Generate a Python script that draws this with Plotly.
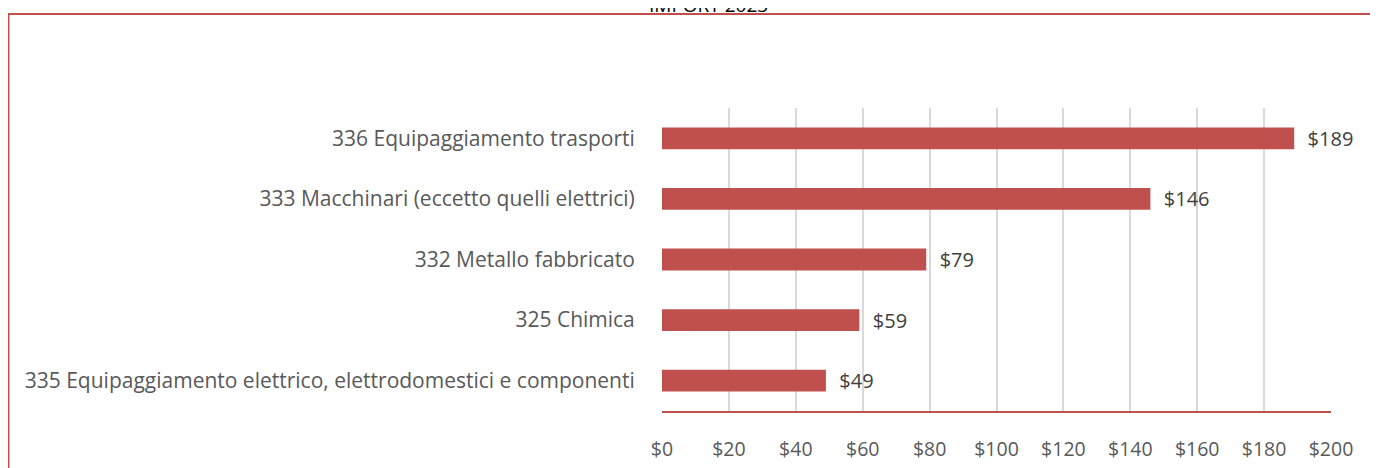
import plotly.graph_objects as go

categories = [
    "335 Equipaggiamento elettrico, elettrodomestici e componenti",
    "325 Chimica",
    "332 Metallo fabbricato",
    "333 Macchinari (eccetto quelli elettrici)",
    "336 Equipaggiamento trasporti",
]
values = [49, 59, 79, 146, 189]
tick_vals = [0, 20, 40, 60, 80, 100, 120, 140, 160, 180, 200]
tick_text = ["$" + str(v) for v in tick_vals]

red = "#C0504D"
font = "Open Sans, Calibri, sans-serif"

fig = go.Figure()
fig.add_trace(go.Bar(
    x=values, y=categories, orientation="h",
    marker=dict(color=red, line=dict(width=0)),
    text=["&nbsp;&nbsp;$" + str(v) for v in values],
    textposition="outside", constraintext="none",
    textfont=dict(family=font, size=20, color="#404040"),
    cliponaxis=False,
))

fig.update_xaxes(
    range=[0, 200], tickvals=tick_vals, ticktext=tick_text,
    showgrid=True, gridcolor="#D9D9D9", gridwidth=1.5,
    showline=True, linecolor=red, linewidth=2,
    ticks="outside", ticklen=20, tickcolor="rgba(0,0,0,0)",
    tickfont=dict(family=font, size=19.5, color="#595959"),
    zeroline=False,
)
fig.update_yaxes(
    showgrid=False, ticks="outside", ticklen=22, tickcolor="rgba(0,0,0,0)",
    tickfont=dict(family=font, size=21, color="#595959"),
)

# cornice del grafico (la pagina ha 8px di margine)
fig.add_shape(type="line", xref="paper", yref="paper",
              x0=-0.98, x1=1.2, y0=1.31, y1=1.31,
              line=dict(color=red, width=2))
fig.add_shape(type="line", xref="paper", yref="paper",
              x0=-0.9776, x1=-0.9776, y0=1.31, y1=-0.3,
              line=dict(color=red, width=3))

fig.add_annotation(text="IMPORT 2023", xref="paper", yref="paper",
                   x=-0.0225, y=1.29, yanchor="bottom", showarrow=False,
                   font=dict(family=font, size=19, color="#000000"))

fig.update_layout(
    width=1378, height=468,
    margin=dict(l=654, r=55, t=100, b=65),
    paper_bgcolor="white", plot_bgcolor="white",
    bargap=0.64, showlegend=False,
)

fig.write_html("out.html")
